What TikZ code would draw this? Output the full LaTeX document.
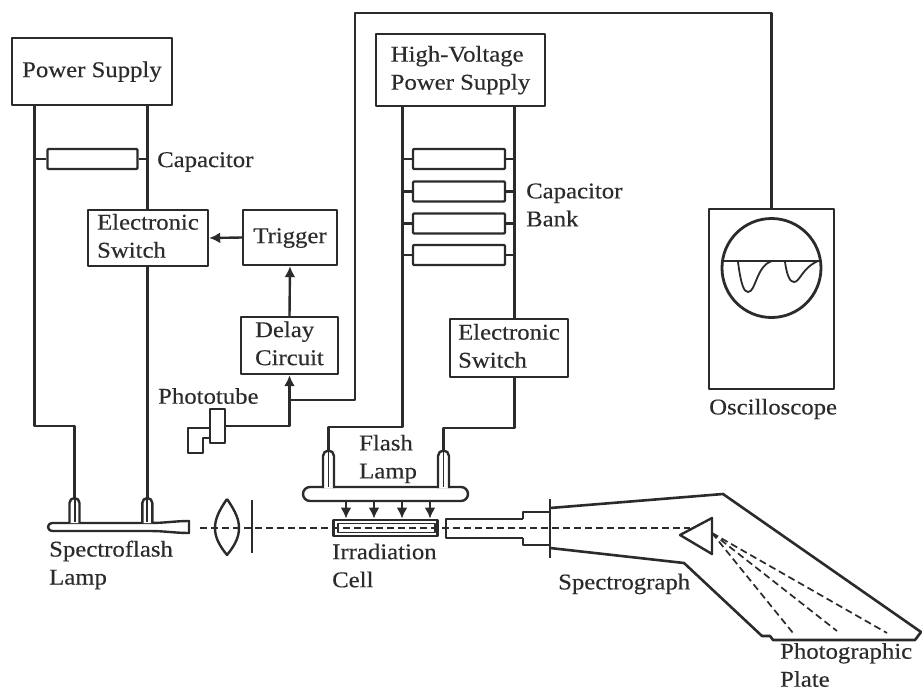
\documentclass[tikz,border=0pt]{standalone}
\usepackage{fontspec}
\usetikzlibrary{arrows.meta}
\setmainfont[FakeStretch=1.1,FakeBold=0.3]{Liberation Serif}
\definecolor{ink}{gray}{0.17}
\newcommand{\boxtext}[1]{\raisebox{-2.5pt}{\begin{tabular}{@{}l@{}}#1\end{tabular}}}

\begin{document}
\begin{tikzpicture}[x=1pt,y=-1pt,line join=round,
    every path/.style={draw=ink,line width=2.4pt},
    every node/.style={text=ink,font=\fontsize{22.5}{28}\selectfont},
    box/.style={draw,inner sep=0pt},
    capbox/.style={draw,rounded corners=1pt,inner sep=0pt,minimum width=90pt,minimum height=20pt},
    label/.style={draw=none,align=left,anchor=west,inner sep=0pt},
    flow/.style={-{Latex[length=11pt,width=11pt]}},
    ray/.style={dash pattern=on 7pt off 4pt,line width=1.7pt}]
  \path[draw=none,fill=white,use as bounding box] (0,0) rectangle (922,691);

  % Alimentation de la lampe spectroflash
  \node (psu) [box,minimum width=160pt,minimum height=67pt] at (92,71.5) {\boxtext{Power Supply}};
  \node (cap) [capbox] at (92.5,159) {};
  \node (capl) [label] at (156,162) {Capacitor};
  \node (esl) [box,minimum width=120pt,minimum height=56pt] at (148,238) {\boxtext{Electronic\\Switch}};
  \node (trig) [box,minimum width=94pt,minimum height=55pt] at (290,237.5) {\boxtext{Trigger}};
  \node (delay) [box,minimum width=97pt,minimum height=57pt] at (289.5,345.5) {\boxtext{Delay\\Circuit}};
  \coordinate (psuL) at (34.3,105);
  \coordinate (psuR) at (147.3,105);
  \coordinate (stemA) at (74.5,500);
  \coordinate (stemB) at (147.3,500);
  \draw (psuL) -- ++(0,321) -| (stemA);
  \draw (psuR) -- (psuR |- esl.north);
  \draw (psuR |- esl.south) -- (stemB);
  \draw (cap.west) -- (cap.west -| psuL);
  \draw (cap.east) -- (cap.east -| psuR);
  \draw[flow] (trig.west) -- (esl.east);
  \draw[flow] (delay.north) -- (trig.south);

  % Phototube
  \node (tube) [box,minimum width=15pt,minimum height=34pt] at (217.5,426) {};
  \node (tubel) [label] at (157,396) {Phototube};
  \draw (210,428) -- (188,428) -- (188,453) -- (203,453) -- (203,438) -- (210,438);
  \draw[flow] (tube.east) -| (delay.south);
  \coordinate (tap) at (289,400);
  \coordinate (corner) at (355,13);
  \node (osc) [box,minimum width=125pt,minimum height=180pt] at (771.5,299) {};
  \draw (tap) -| (corner) -| (osc.north);

  % Oscilloscope
  \node (screen) [draw,circle,line width=2.8pt,minimum size=99pt,inner sep=0pt] at (771.5,268) {};
  \node (oscl) [label] at (708,409) {Oscilloscope};
  \draw[line width=2.4pt] (721,261) -- (822,261);
  \draw[line width=1.8pt] (738,262) .. controls (741,285) and (744,292) .. (748,292)
    .. controls (756,292) and (756,266) .. (772,261);
  \draw[line width=1.8pt] (785,262) .. controls (787,276) and (790,282) .. (794,282)
    .. controls (800,282) and (802,268) .. (818,261);

  % Alimentation haute tension et batterie de condensateurs
  \node (hvps) [box,minimum width=169pt,minimum height=72pt] at (460.5,70) {\boxtext{High-Voltage\\Power Supply}};
  \coordinate (hvL) at (402.3,106);
  \coordinate (hvR) at (514.5,106);
  \foreach \y/\n in {159/1,191.5/2,223.5/3,255/4}
    \node (bank\n) [capbox,minimum width=92pt] at (459,\y) {};
  \foreach \n in {1,2,3,4} {
    \draw (bank\n.west) -- (bank\n.west -| hvL);
    \draw (bank\n.east) -- (bank\n.east -| hvR);
  }
  \node (bankl) [label] at (525,205) {Capacitor\\Bank};
  \node (esr) [box,minimum width=118pt,minimum height=58pt] at (509,348) {\boxtext{Electronic\\Switch}};
  \coordinate (stemC) at (328.5,453);
  \coordinate (stemD) at (443.5,453);
  \draw (hvL) -- ++(0,321) -| (stemC);
  \draw (hvR) -- (hvR |- esr.north);
  \draw (hvR |- esr.south) -- ++(0,50) -| (stemD);

  % Lampe flash et cellule
  \node (flash) [box,rounded corners=7pt,minimum width=165pt,minimum height=14pt] at (385.5,494) {};
  \node (flashl) [label] at (358,459) {Flash\\Lamp};
  \foreach \c in {328.5,443.5} {
    \draw[fill=white] (\c-5.5,488) -- (\c-5.5,456) arc (180:360:5.5) -- (\c+5.5,488);
    \draw[line width=1.4pt] (\c,451) -- (\c,487);
  }
  \node (cell) [box,line width=2.8pt,minimum width=104pt,minimum height=16pt] at (385.5,528) {};
  \draw[line width=1.2pt] (338,523.5) rectangle (435,532.5);
  \foreach \x in {346,374,402,430}
    \draw[flow] (flash.south -| \x,0) -- (cell.north -| \x,0);
  \node (celll) [label] at (331,565.5) {Irradiation\\Cell};

  % Lampe spectroflash
  \draw (150,523) -- (52,523) arc (270:90:4) -- (150,531) .. controls (165,531) and (175,533) .. (189,533)
    -- (189,521) .. controls (175,521) and (165,523) .. (150,523);
  \foreach \c in {74.5,147.3} {
    \draw[fill=white] (\c-5,523) -- (\c-5,503) arc (180:360:5) -- (\c+5,523);
    \draw[line width=2pt] (\c,498) -- (\c,522);
  }
  \node (specl) [label] at (48,565) {Spectroflash\\Lamp};

  % Axe optique
  \draw (227,499) .. controls (218,512) and (215,520) .. (215,528) .. controls (215,536) and (218,544) .. (227,555)
    .. controls (236,544) and (239,536) .. (239,528) .. controls (239,520) and (236,512) .. (227,499);
  \draw[line width=2.6pt] (252,500) -- (252,553);
  \draw[ray] (200,528) -- (690,528);

  % Spectrographe
  \draw (523,519) -- (446,519) -- (446,538) -- (523,538);
  \draw (523,519) -- (523,512) -- (550,512);
  \draw (523,538) -- (523,545) -- (550,545);
  \draw (550,499) -- (550,558);
  \draw[line width=2.6pt] (550,508) -- (723,494) -- (921,632) -- (915,640) -- (773,640) -- (770,636) -- (762,636)
    -- (684,563) -- (550,548);
  \draw (712,518) -- (712,554) -- (680,535) -- cycle;
  \draw[ray] (712,533) -- (793,633);
  \draw[ray] (712,533) -- (837,631);
  \draw[ray] (712,533) -- (887,633);
  \node (specg) [label] at (557,584) {Spectrograph};
  \node (plate) [label] at (779,665) {Photographic\\Plate};
\end{tikzpicture}
\end{document}
